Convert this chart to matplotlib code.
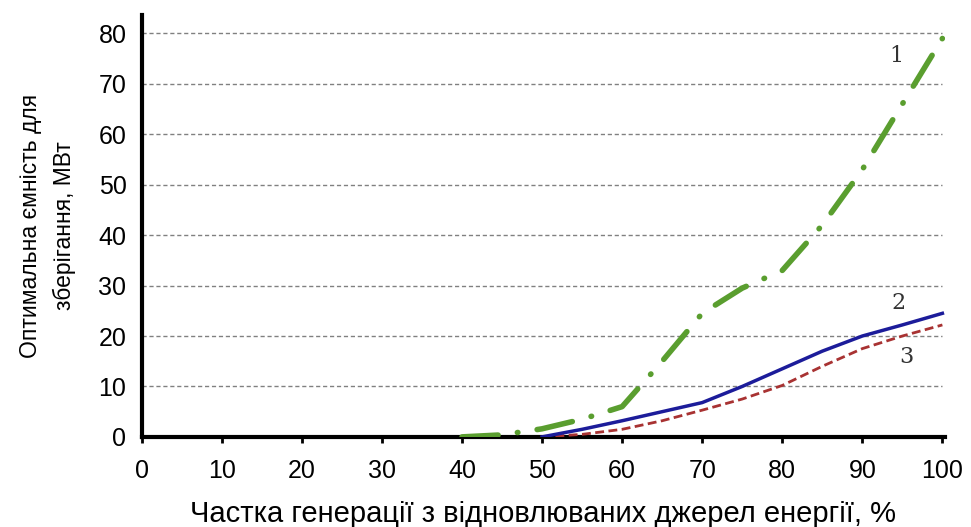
import numpy as np
import matplotlib.pyplot as plt

plt.rcParams['font.family'] = ['Liberation Sans', 'DejaVu Sans']

# share of renewable generation, %
x = [40, 45, 50, 55, 60, 65, 70, 75, 80, 85, 90, 95, 100]
x23 = [50, 55, 60, 65, 70, 75, 80, 85, 90, 95, 100]

# optimal storage capacity, MW
curve1 = [0, 0.4, 1.6, 3.5, 6, 15, 24.5, 29.5, 33, 42, 53, 66, 79]
curve2 = [0, 1.5, 3.2, 5, 6.8, 10, 13.5, 17, 20, 22.2, 24.5]
curve3 = [0, 0.5, 1.5, 3.2, 5.3, 7.5, 10.2, 14, 17.5, 20, 22.2]

xticks = np.arange(0, 101, 10)
yticks = np.arange(0, 81, 10)

fig = plt.figure(figsize=(9.71, 5.27), dpi=100)
ax = fig.add_axes([0.146, 0.171, 0.827, 0.80])

# dashed horizontal gridlines
for yv in yticks[1:]:
    ax.plot([0, 100], [yv, yv], color='#808080', lw=1.0, ls=(0, (3, 2)), zorder=1)

ax.plot(x, curve1, color='#5a9e2f', lw=4, ls=(0, (6.5, 3.5, 0.1, 3.5)),
        solid_capstyle='round', dash_capstyle='round', zorder=3)
ax.plot(x23, curve2, color='#1c1c9a', lw=2.5, zorder=4)
ax.plot(x23, curve3, color='#a83232', lw=2.0, ls=(0, (3.2, 1.6)), zorder=3)

for lbl, xp, yp in [('1', 94.3, 75.5), ('2', 94.5, 26.5), ('3', 95.5, 15.8)]:
    ax.text(xp, yp, lbl, family='DejaVu Serif', fontsize=16, color='#333333',
            ha='center', va='center')

ax.set_xlim(0, 100.3)
ax.set_ylim(0, 83.6)
ax.set_xticks(xticks)
ax.set_yticks(yticks)
ax.tick_params(axis='x', direction='out', length=4, width=2, pad=12, labelsize=18)
ax.tick_params(axis='y', length=0, pad=11, labelsize=18)

for side in ['top', 'right']:
    ax.spines[side].set_visible(False)
for side in ['left', 'bottom']:
    ax.spines[side].set_linewidth(3)
    ax.spines[side].set_color('black')

ax.set_xlabel('Частка генерації з відновлюваних джерел енергії, %', fontsize=21, labelpad=12)
ax.set_ylabel('Оптимальна ємність для\nзберігання, МВт', fontsize=16.5, labelpad=16,
              linespacing=1.6)

fig.savefig('out.png', dpi=100)
